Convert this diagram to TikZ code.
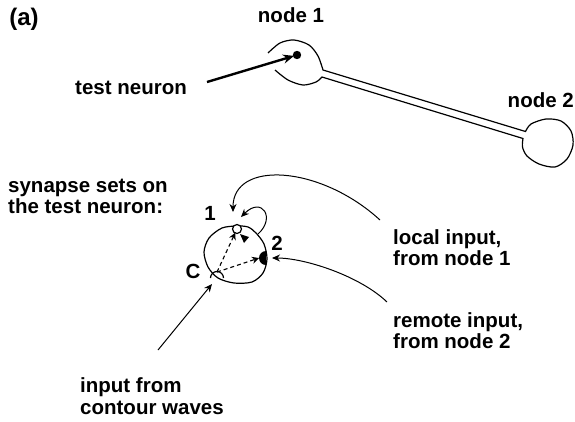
\documentclass[tikz,border=0pt]{standalone}
\usepackage{fontspec}
\setmainfont{Liberation Sans}
\usetikzlibrary{arrows.meta}

\begin{document}
\begin{tikzpicture}[x=1pt,y=-1pt,
  every node/.style={font=\bfseries\fontsize{20.5}{21.5}\selectfont, inner sep=0pt, align=left},
  wire/.style={line width=1.2pt},
  dend/.style={line width=1pt, -{Stealth[length=8pt,width=7pt]}},
  link/.style={line width=1.1pt, dash pattern=on 4pt off 3pt, -{Stealth[length=7pt,width=7pt]}}]
\useasboundingbox (0,0) rectangle (575,421);

\node (tag) at (24,19) {\fontsize{24}{26}\selectfont(a)};
\node[anchor=base] (n1) at (291,22) {node 1};
\node[anchor=base east] (n2) at (574,107) {node 2};
\node[anchor=base west] (tn) at (75,94) {test neuron};
\node[anchor=base west] (sets) at (8,213.5) {synapse sets on\\the test neuron:};
\node[anchor=base west] (loc) at (393,265.5) {local input,\\from node 1};
\node[anchor=base west] (rem) at (393,348.5) {remote input,\\from node 2};
\node[anchor=base west] (cw) at (80,414) {input from\\contour waves};
\node (l1) at (210,213.5) {1};
\node (l2) at (277,243.5) {2};
\node (lc) at (193,271) {C};

% node 1, axon and node 2
\draw[wire] plot[smooth] coordinates {(268,53) (280,43) (294,40) (309,45) (318,56) (323,70)}
  -- plot[smooth] coordinates {(525.5,131.5) (531,124) (546,119) (561,121) (571,131) (573,145) (567,159) (555,167) (539,164) (527,156) (522.5,147) (523,138.5)}
  -- plot[smooth] coordinates {(322,77) (316,82) (303,85) (288,80) (275,70)};
\coordinate (soma1) at (297,55);
\fill (soma1) circle[radius=4.2];
\coordinate (tnfrom) at (207,82);
\draw[line width=2.4pt, -{Stealth[length=11pt,width=9pt]}, shorten >=3pt] (tnfrom) -- (soma1);

% the test neuron with its synapses
\draw[wire] plot[smooth cycle] coordinates {(237,226) (222,228) (209,238) (204,252) (208,267) (218,278) (234,283) (252,282) (263,273) (267,259) (264,244) (256,233) (248,227)};
\coordinate (s1) at (237,229);
\coordinate (s2) at (259,258);
\coordinate (sc) at (217,272);
\draw[wire, fill=white] (s1) circle[radius=4.5];
\fill (266,251) arc (270:90:7) -- cycle;
\draw[wire] (210.5,278) arc (180:360:6.5);
\fill (240,234) -- (249,237) -- (244,243) -- cycle;
\draw[link, shorten >=4pt] (sc) -- (s1);
\draw[link] (sc) -- (s2);

% inputs
\coordinate (loopfoot) at (258,234);
\coordinate (s1in) at (241,217);
\draw[dend] (loopfoot) .. controls (276,218) and (262,196) .. (s1in);
\coordinate (locfrom) at (380,220);
\coordinate (s1up) at (233,212);
\draw[dend] (locfrom) .. controls (320,165) and (233,160) .. (s1up);
\coordinate (remfrom) at (387,302);
\coordinate (s2in) at (272,258);
\draw[dend] (remfrom) .. controls (360,276) and (305,258) .. (s2in);
\coordinate (cwfrom) at (158,350);
\coordinate (scin) at (212,284);
\draw[dend] (cwfrom) -- (scin);
\end{tikzpicture}
\end{document}
